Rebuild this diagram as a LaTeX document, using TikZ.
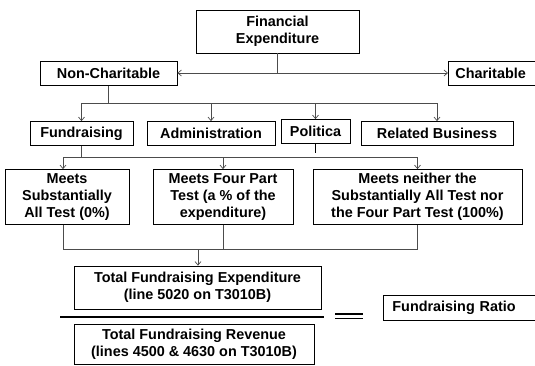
\documentclass[tikz,border=0pt]{standalone}
\usepackage{fontspec}
\setmainfont{Liberation Sans}
\usepackage{tikz}
\usetikzlibrary{arrows.meta,positioning}
\tikzset{
    box/.style={
           rectangle,
           draw=black, line width=0.8pt,
           inner sep=0pt,
           align=center,
           font=\fontsize{14.4}{17}\selectfont\bfseries
           },
    link/.style={
           draw=black!70, line width=0.7pt
           },
    bar/.style={
           draw=black, line width=1.6pt
           }
}
\begin{document}
\begin{tikzpicture}[x=1pt, y=-1pt, >={Straight Barb[length=3.5pt,width=6pt]}]
   \useasboundingbox (0,0) rectangle (535,365);
   \node[box, minimum width=163, minimum height=43] (fin) at (277.5,31.5) {Financial\\Expenditure};
   \node[box, minimum width=137, minimum height=24] (nonchar) at (108.5,73.5) {Non-Charitable};
   \node[box, anchor=west, text width=74, inner xsep=7, align=left, minimum height=24] (char) at (448,73) {Charitable};
   \node[box, minimum width=103, minimum height=24] (fund) at (81.5,133.5) {Fundraising};
   \node[box, minimum width=128, minimum height=24] (admin) at (211,133.5) {Administration};
   \node[box, minimum width=69, minimum height=24] (pol) at (315.5,131.5) {Politica};
   \node[box, minimum width=152, minimum height=24] (relb) at (437,133.5) {Related Business};
   \node[box, minimum width=124, minimum height=55] (subst) at (67,197) {Meets\\Substantially\\All Test (0\%)};
   \node[box, minimum width=140, minimum height=55] (four) at (223,197) {Meets Four Part\\Test (a \% of the\\expenditure)};
   \node[box, minimum width=209, minimum height=55] (neither) at (417.5,197) {Meets neither the\\Substantially All Test nor\\the Four Part Test (100\%)};
   \node[box, minimum width=247, minimum height=43] (totexp) at (197.5,287.5) {Total Fundraising Expenditure\\(line 5020 on T3010B)};
   \node[box, minimum width=240, minimum height=40] (totrev) at (194,344.5) {Total Fundraising Revenue\\(lines 4500 \& 4630 on T3010B)};
   \node[box, anchor=west, text width=140, inner xsep=9, align=left, minimum height=25] (ratio) at (383,307.5) {Fundraising Ratio};

   % junction points
   \coordinate (j1) at (fin.south |- 0,73);
   \coordinate (j2) at (nonchar.south |- 0,103);
   \coordinate (j3) at (fund.south |- 0,157.5);
   \coordinate (j4) at (63,157.5);
   \coordinate (j5) at (63,249);
   \coordinate (j6) at (198,249);
   \coordinate (polend) at (pol.south |- 0,153);

   \draw[link] (fin.south) -- (j1);
   \draw[link, ->] (j1) -- (nonchar.east |- j1);
   \draw[link, ->] (j1) -- (char.west |- j1);
   \draw[link] (nonchar.south) -- (j2) -- (relb.north |- j2);
   \draw[link] (j2) -| (fund.north |- j2);
   \draw[link, ->] (fund.north |- j2) -- (fund.north);
   \draw[link, ->] (admin.north |- j2) -- (admin.north);
   \draw[link, ->] (pol.north |- j2) -- (pol.north);
   \draw[link, ->] (relb.north |- j2) -- (relb.north);
   \draw[bar, line width=1.5pt] (pol.south) -- (polend);
   \draw[link] (fund.south) -- (j3);
   \draw[link] (j4) -- (neither.north |- j4);
   \draw[link, ->] (j4) -- (j4 |- subst.north);
   \draw[link, ->] (four.north |- j4) -- (four.north);
   \draw[link, ->] (neither.north |- j4) -- (neither.north);
   \draw[link] (j4 |- subst.south) -- (j5) -- (neither.south |- j5) -- (neither.south);
   \draw[link] (four.south) -- (four.south |- j5);
   \draw[link, ->] (j6) -- (j6 |- totexp.north);
   % fraction and equals
   \draw[bar] (60,317) -- (324,317);
   \draw[black, line width=1.1pt] (335,314) -- (363,314) (335,318.5) -- (363,318.5);
\end{tikzpicture}
\end{document}
